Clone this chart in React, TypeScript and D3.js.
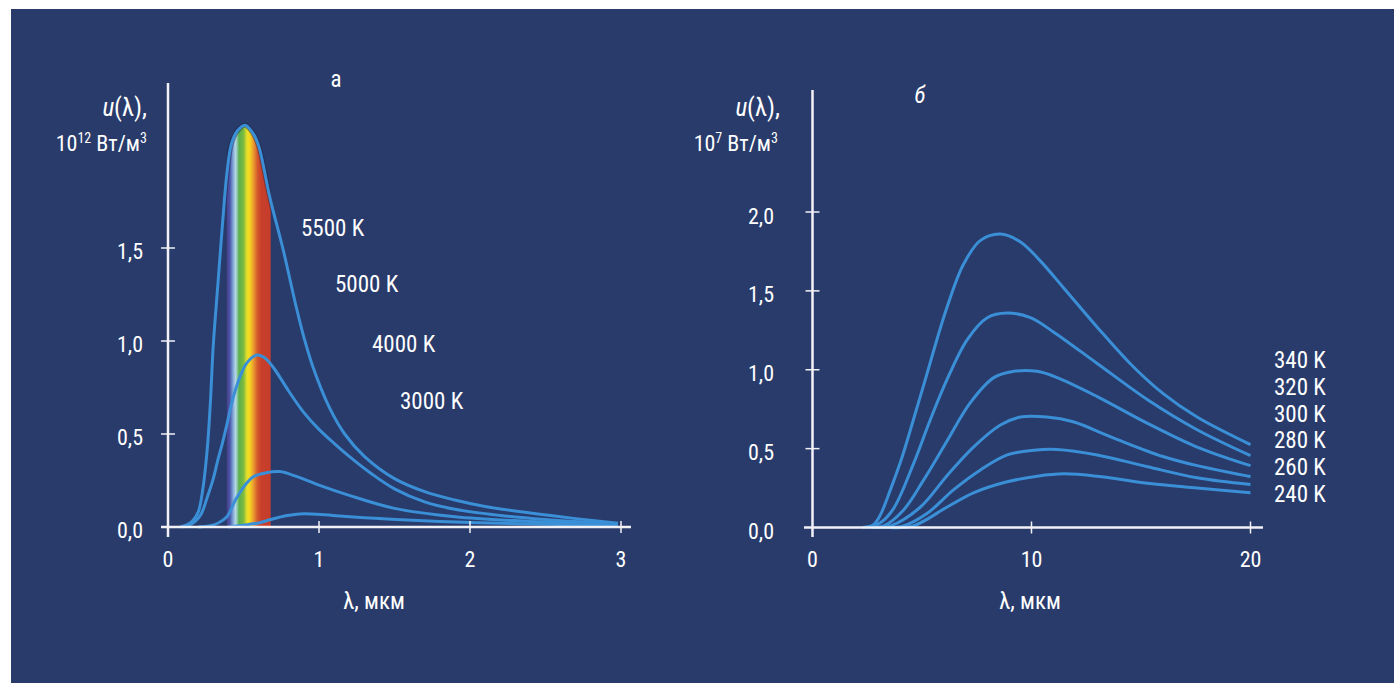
import React from 'react';
import * as d3 from 'd3';

type Pt = [number, number];

// panel а: spectral energy density, 10^12 W/m^3, wavelength in µm
const tempsA = ['5500 K', '5000 K', '4000 K', '3000 K'];
const t5500: Pt[] = [
  [0.08, 0], [0.12, 0.01], [0.16, 0.03], [0.2, 0.08], [0.23, 0.2], [0.26, 0.42], [0.28, 0.66],
  [0.3, 0.98], [0.33, 1.3], [0.36, 1.62], [0.39, 1.9], [0.42, 2.06], [0.46, 2.13], [0.51, 2.16],
  [0.56, 2.12], [0.6, 2.05], [0.675, 1.77], [0.76, 1.5], [0.85, 1.18], [0.9, 1.02], [0.96, 0.86],
  [1.07, 0.64], [1.17, 0.5], [1.3, 0.38], [1.5, 0.26], [1.7, 0.19], [1.9, 0.145], [2.1, 0.11],
  [2.4, 0.075], [2.7, 0.045], [2.98, 0.02],
];
const t5000: Pt[] = [
  [0.1, 0], [0.14, 0.01], [0.18, 0.03], [0.22, 0.07], [0.26, 0.16], [0.3, 0.26], [0.33, 0.36],
  [0.36, 0.45], [0.39, 0.55], [0.42, 0.66], [0.46, 0.77], [0.52, 0.88], [0.59, 0.925], [0.64, 0.91],
  [0.7, 0.855], [0.8, 0.73], [0.9, 0.615], [1.0, 0.525], [1.1, 0.45], [1.2, 0.38], [1.35, 0.285],
  [1.5, 0.205], [1.7, 0.135], [1.9, 0.095], [2.2, 0.062], [2.5, 0.04], [2.98, 0.015],
];
const t4000: Pt[] = [
  [0.2, 0], [0.27, 0.005], [0.33, 0.02], [0.39, 0.055], [0.45, 0.15], [0.52, 0.235], [0.565, 0.27],
  [0.65, 0.292], [0.74, 0.298], [0.85, 0.272], [1.0, 0.225], [1.2, 0.17], [1.5, 0.1], [1.9, 0.055],
  [2.4, 0.03], [2.98, 0.01],
];
const t3000: Pt[] = [
  [0.4, 0], [0.5, 0.01], [0.6, 0.022], [0.68, 0.04], [0.78, 0.06], [0.87, 0.07], [0.95, 0.07],
  [1.09, 0.062], [1.3, 0.05], [1.51, 0.04], [1.8, 0.03], [2.2, 0.02], [2.6, 0.013], [2.98, 0.01],
];
const seriesA = [t5500, t5000, t4000, t3000];
const ticksYA = [0, 0.5, 1.0, 1.5];
const ticksXA = [0, 1, 2, 3];
const visibleBand = [0.39, 0.68];

// panel б: 10^7 W/m^3, wavelength in µm
const tempsB = ['340 K', '320 K', '300 K', '280 K', '260 K', '240 K'];
const t340: Pt[] = [
  [2.3, 0], [2.8, 0.02], [3.1, 0.08], [3.56, 0.24], [4.1, 0.45], [4.6, 0.68], [5.24, 0.98],
  [5.7, 1.2], [6.15, 1.4], [6.9, 1.67], [7.67, 1.82], [8.58, 1.86], [9.5, 1.81], [10.4, 1.69],
  [11.46, 1.52], [13.0, 1.27], [14.5, 1.04], [16.0, 0.85], [17.56, 0.7], [20.0, 0.525],
];
const t320: Pt[] = [
  [2.5, 0], [3.1, 0.03], [3.7, 0.12], [4.6, 0.4], [5.37, 0.68], [6.15, 0.94], [7.06, 1.19],
  [7.98, 1.33], [8.89, 1.36], [9.95, 1.33], [11.0, 1.24], [13.0, 1.04], [15.3, 0.81],
  [17.56, 0.62], [20.0, 0.456],
];
const t300: Pt[] = [
  [2.7, 0], [3.25, 0.01], [4.15, 0.11], [5.07, 0.3], [6.15, 0.55], [7.2, 0.79], [8.28, 0.95],
  [9.2, 0.99], [10.26, 0.99], [11.17, 0.95], [13.0, 0.83], [15.3, 0.66], [17.56, 0.51], [20.0, 0.392],
];
const t280: Pt[] = [
  [2.9, 0], [3.56, 0.01], [4.93, 0.13], [6.15, 0.33], [7.35, 0.51], [8.58, 0.65], [9.5, 0.7],
  [10.7, 0.7], [11.9, 0.67], [13.7, 0.57], [16.0, 0.45], [17.56, 0.392], [20.0, 0.323],
];
const t260: Pt[] = [
  [3.2, 0], [4.15, 0.01], [5.24, 0.09], [6.45, 0.24], [7.67, 0.365], [8.89, 0.46], [10.1, 0.49],
  [11.17, 0.495], [13.0, 0.46], [15.3, 0.385], [17.56, 0.315], [20.0, 0.272],
];
const t240: Pt[] = [
  [3.5, 0], [4.6, 0.01], [6.15, 0.13], [7.35, 0.22], [8.89, 0.29], [10.26, 0.325], [11.46, 0.34],
  [13.0, 0.325], [15.3, 0.28], [17.56, 0.25], [20.0, 0.22],
];
const seriesB = [t340, t320, t300, t280, t260, t240];
const ticksYB = [0, 0.5, 1.0, 1.5, 2.0];
const ticksXB = [0, 10, 20];

const BG = '#293b6b';
const LINE = '#3a8fd6';
const AXIS = '#f2f2f6';
const FONT = '"Roboto Condensed", "Liberation Sans Narrow", "Liberation Sans", sans-serif';

const fmt = (v: number) => v.toFixed(1).replace('.', ',');

export default function App() {
  const xA = d3.scaleLinear().domain([0, 3]).range([168, 621]);
  const yA = d3.scaleLinear().domain([0, 1.5]).range([527, 248]);
  const xB = d3.scaleLinear().domain([0, 20]).range([812.5, 1250.5]);
  const yB = d3.scaleLinear().domain([0, 2]).range([527.5, 212]);

  const smooth = d3.curveCatmullRom.alpha(0.5);
  const lineA = d3.line<Pt>().x((d) => xA(d[0])).y((d) => yA(d[1])).curve(smooth);
  const lineB = d3.line<Pt>().x((d) => xB(d[0])).y((d) => yB(d[1])).curve(smooth);
  const areaA = d3.area<Pt>().x((d) => xA(d[0])).y0(yA(0)).y1((d) => yA(d[1])).curve(smooth);

  const bandX0 = xA(visibleBand[0]);
  const bandX1 = xA(visibleBand[1]);

  const txt = { fill: '#ffffff', fontFamily: FONT } as const;

  return (
    <svg width={1394} height={683} style={{ position: 'absolute', left: 0, top: 0 }}>
      <defs>
        <linearGradient id="spectrum" x1="0" x2="1" y1="0" y2="0">
          <stop offset="0" stopColor="#4b3f8c" />
          <stop offset="0.07" stopColor="#4a56a8" />
          <stop offset="0.14" stopColor="#7fa6d6" />
          <stop offset="0.2" stopColor="#b6d8e8" />
          <stop offset="0.28" stopColor="#59b04a" />
          <stop offset="0.38" stopColor="#7dbb40" />
          <stop offset="0.46" stopColor="#e8e02a" />
          <stop offset="0.52" stopColor="#f5d81e" />
          <stop offset="0.6" stopColor="#eaa030" />
          <stop offset="0.7" stopColor="#d4572c" />
          <stop offset="0.78" stopColor="#c8402a" />
          <stop offset="1" stopColor="#c53c2c" />
        </linearGradient>
        <clipPath id="under5500">
          <path d={areaA(t5500) || ''} />
        </clipPath>
        <clipPath id="bandClip">
          <rect x={bandX0} y={0} width={bandX1 - bandX0} height={683} />
        </clipPath>
      </defs>
      <rect x={11} y={9} width={1383} height={674} fill={BG} />

      {/* panel а */}
      <g clipPath="url(#under5500)">
        <rect x={bandX0} y={yA(2.3)} width={bandX1 - bandX0} height={yA(0) - yA(2.3)} fill="url(#spectrum)" />
      </g>
      <path d={lineA(t5500) || ''} fill="none" stroke="#1a2140" strokeOpacity={0.45} strokeWidth={5} clipPath="url(#bandClip)" />
      {seriesA.map((s, i) => (
        <path key={i} d={lineA(s) || ''} fill="none" stroke={LINE} strokeWidth={3} />
      ))}
      <line x1={xA(0)} x2={xA(0)} y1={83} y2={537} stroke={AXIS} strokeWidth={2.5} />
      <line x1={161} x2={631} y1={yA(0)} y2={yA(0)} stroke={AXIS} strokeWidth={2.5} />
      {ticksYA.slice(1).map((t) => (
        <line key={t} x1={xA(0) - 7} x2={xA(0) + 7} y1={yA(t)} y2={yA(t)} stroke={AXIS} strokeWidth={1.5} />
      ))}
      {ticksXA.slice(1).map((t) => (
        <line key={t} x1={xA(t)} x2={xA(t)} y1={yA(0) - 6} y2={yA(0) + 6} stroke={AXIS} strokeWidth={1.5} />
      ))}
      {ticksYA.map((t) => (
        <text key={t} x={143} y={yA(t) + 11} textAnchor="end" fontSize={22} {...txt}>{fmt(t)}</text>
      ))}
      {ticksXA.map((t) => (
        <text key={t} x={xA(t)} y={567} textAnchor="middle" fontSize={22} {...txt}>{t}</text>
      ))}
      <text x={147} y={116} textAnchor="end" fontSize={25} {...txt}>
        <tspan fontStyle="italic">u</tspan>(λ),
      </text>
      <text x={147} y={151} textAnchor="end" fontSize={22} {...txt}>
        10<tspan fontSize={14} dy={-8}>12</tspan><tspan dy={8}> Вт/м</tspan><tspan fontSize={14} dy={-8}>3</tspan>
      </text>
      <text x={336} y={87} textAnchor="middle" fontSize={23} {...txt}>а</text>
      <text x={374} y={609} textAnchor="middle" fontSize={23} {...txt}>λ, мкм</text>
      {tempsA.map((t, i) => (
        <text key={t} x={[301, 335, 372, 400][i]} y={[236, 292, 352, 409][i]} fontSize={23} {...txt}>{t}</text>
      ))}

      {/* panel б */}
      {seriesB.map((s, i) => (
        <path key={i} d={lineB(s) || ''} fill="none" stroke={LINE} strokeWidth={3} />
      ))}
      <line x1={xB(0)} x2={xB(0)} y1={90} y2={537} stroke={AXIS} strokeWidth={2.5} />
      <line x1={804} x2={1263} y1={yB(0)} y2={yB(0)} stroke={AXIS} strokeWidth={2.5} />
      {ticksYB.slice(1).map((t) => (
        <line key={t} x1={xB(0) - 7} x2={xB(0) + 7} y1={yB(t)} y2={yB(t)} stroke={AXIS} strokeWidth={1.5} />
      ))}
      {ticksXB.slice(1).map((t) => (
        <line key={t} x1={xB(t)} x2={xB(t)} y1={yB(0) - 6} y2={yB(0) + 6} stroke={AXIS} strokeWidth={1.5} />
      ))}
      {ticksYB.map((t) => (
        <text key={t} x={774} y={yB(t) + 11.5} textAnchor="end" fontSize={22} {...txt}>{fmt(t)}</text>
      ))}
      {ticksXB.map((t) => (
        <text key={t} x={xB(t)} y={567} textAnchor="middle" fontSize={22} {...txt}>{t}</text>
      ))}
      <text x={780} y={116} textAnchor="end" fontSize={25} {...txt}>
        <tspan fontStyle="italic">u</tspan>(λ),
      </text>
      <text x={778} y={151} textAnchor="end" fontSize={22} {...txt}>
        10<tspan fontSize={14} dy={-8}>7</tspan><tspan dy={8}> Вт/м</tspan><tspan fontSize={14} dy={-8}>3</tspan>
      </text>
      <text x={920} y={103} textAnchor="middle" fontSize={23} fontStyle="italic" {...txt}>б</text>
      <text x={1030} y={609} textAnchor="middle" fontSize={23} {...txt}>λ, мкм</text>
      {tempsB.map((t, i) => (
        <text key={t} x={1274} y={368.3 + i * 26.7} fontSize={23} {...txt}>{t}</text>
      ))}
    </svg>
  );
}
